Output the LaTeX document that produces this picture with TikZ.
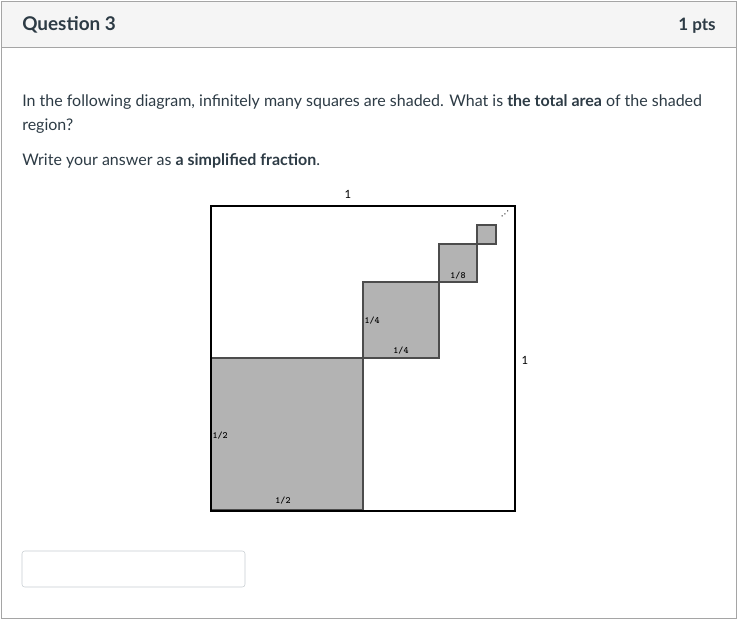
\documentclass[tikz,border=0pt]{standalone}
\usepackage{fontspec}
\setmainfont{Lato}
\usetikzlibrary{calc}
\definecolor{canvastext}{HTML}{2D3B45}
\definecolor{framegray}{HTML}{A5A5A5}
\definecolor{headfill}{HTML}{F5F5F5}
\definecolor{boxgray}{HTML}{C7CDD1}
\definecolor{shade}{HTML}{B3B3B3}
\tikzset{
  qtext/.style={anchor=base west,inner sep=0pt,text=canvastext,font=\fontsize{12}{14}\selectfont},
  frac/.style={inner sep=1pt,font=\fontsize{7.2}{8}\selectfont\ttfamily\bfseries},
  unit/.style={inner sep=1pt,font=\fontsize{8.5}{9}\selectfont\rmfamily},
  shadebox/.style={fill=shade,draw=black!70,line width=1.1pt}
}
\begin{document}
\begin{tikzpicture}[x=0.75pt,y=-0.75pt]
    \useasboundingbox(0,0)rectangle(737,620);
    % frame and header
    \draw[framegray,fill=headfill](1,1)rectangle(736,47);
    \draw[framegray](1,47)--(1,618)--(736,618)--(736,47);
    \node[qtext,font=\fontsize{14.2}{16}\selectfont\bfseries](title) at(22,31){Question 3};
    \node[qtext,anchor=base east,font=\fontsize{12.8}{14}\selectfont\bfseries](pts) at(716,31){1 pts};
    % question text
    \node[qtext](line1) at(22,107){In the following diagram, infinitely many squares are shaded. What is \textbf{the total area} of the shaded};
    \node[qtext](line2) at(22,131){region?};
    \node[qtext](line3) at(22,166){Write your answer as \textbf{a simplified fraction}.};
    % shaded squares
    \foreach \x/\y/\s in {211/358/152, 363/282/76, 439/244/38, 477/225/19}{
      \draw[shadebox](\x,\y)rectangle++(\s,\s);
    }
    \draw[line width=1.6pt](211,206)rectangle(515,511);
    \node[rotate=45,inner sep=0pt,font=\scriptsize](dots) at(505,214){.\,.\,.};
    % labels
    \node[unit](top) at(348,194){1};
    \node[unit](right) at(525,360){1};
    \node[frac,anchor=west](halfl) at(211,436){1/2};
    \node[frac](halfb) at(283,501){1/2};
    \node[frac,anchor=west](quarl) at(363,321){1/4};
    \node[frac](quarb) at(401,351){1/4};
    \node[frac](eighth) at(458,276){1/8};
    % answer box
    \draw[boxgray,rounded corners=2pt](22,551)rectangle(245,587);
\end{tikzpicture}
\end{document}
